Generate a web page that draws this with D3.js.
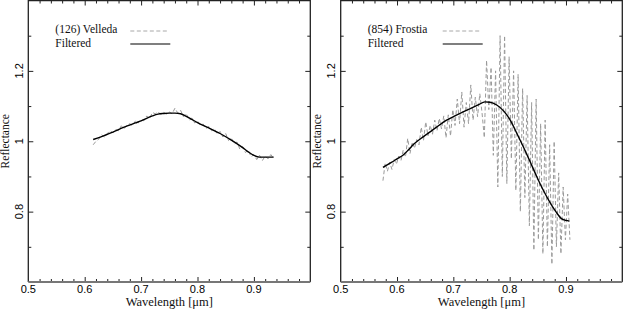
<!DOCTYPE html>
<html>
<head>
<meta charset="utf-8">
<script src="https://cdn.jsdelivr.net/npm/d3@7"></script>
<style>
	body { margin: 0; background: #fff; }
	svg { display: block; }
	.tickLabel { font-family: "Liberation Sans", Arial, sans-serif; font-size: 11px; fill: #000; }
	.axisLabel { font-family: "Liberation Serif", "DejaVu Serif", serif; font-size: 12.5px; fill: #111; }
	.yAxisLabel { font-family: "Liberation Serif", "DejaVu Serif", serif; font-size: 11.5px; fill: #111; }
	.legendText { font-family: "Liberation Serif", "DejaVu Serif", serif; font-size: 11.5px; fill: #111; }
</style>
</head>
<body>
<div id="canvas"></div>
<script>
// axis ticks
var xMajorTicks = [0.5, 0.6, 0.7, 0.8, 0.9, 1.0];
var xTickLabels = ["0.5", "0.6", "0.7", "0.8", "0.9", ""];
var yMajorTicks = [0.8, 1.0, 1.2];
var yTickLabels = ["0.8", "1", "1.2"];
var yMinorTicks = [0.7, 0.9, 1.1, 1.3];
var xMinorTicks = [0.52,0.54,0.56,0.58,0.62,0.64,0.66,0.68,0.72,0.74,0.76,0.78,0.82,0.84,0.86,0.88,0.92,0.94,0.96,0.98];

// (126) Velleda - raw spectrum
var velledaWave = [0.615,0.620,0.625,0.630,0.635,0.640,0.645,0.650,0.655,0.660,0.665,0.670,0.675,0.680,0.685,0.690,
	0.695,0.700,0.705,0.710,0.715,0.720,0.725,0.730,0.735,0.740,0.745,0.750,0.755,0.760,0.765,0.770,0.775,0.780,
	0.785,0.790,0.795,0.800,0.805,0.810,0.815,0.820,0.825,0.830,0.835,0.840,0.845,0.850,0.855,0.860,0.865,0.870,
	0.875,0.880,0.885,0.890,0.895,0.900,0.905,0.910,0.915,0.920,0.925,0.930,0.935];
var velledaRefl = [0.990,1.000,1.006,1.018,1.012,1.022,1.030,1.024,1.033,1.030,1.044,1.036,1.046,1.050,1.044,1.058,
	1.052,1.062,1.058,1.072,1.064,1.082,1.078,1.084,1.076,1.082,1.077,1.083,1.078,1.094,1.080,1.088,1.070,1.079,
	1.060,1.066,1.052,1.058,1.046,1.049,1.036,1.042,1.030,1.036,1.020,1.028,1.012,1.022,1.002,1.010,0.992,0.998,
	0.978,0.985,0.968,0.975,0.956,0.962,0.948,0.960,0.945,0.958,0.950,0.962,0.952];
// (126) Velleda - filtered
var velledaFiltWave = [0.615,0.630,0.650,0.670,0.690,0.700,0.720,0.730,0.740,0.750,0.760,0.770,0.780,0.790,0.800,
	0.820,0.840,0.860,0.880,0.890,0.900,0.910,0.920,0.935];
var velledaFiltRefl = [1.005,1.013,1.026,1.040,1.052,1.058,1.072,1.077,1.079,1.080,1.080,1.078,1.071,1.062,1.053,
	1.038,1.022,1.003,0.982,0.970,0.960,0.955,0.955,0.955];

// (854) Frostia - raw spectrum
var frostiaWave = [0.575,0.579,0.583,0.587,0.591,0.595,0.599,0.603,0.607,0.611,0.615,0.619,0.623,0.627,0.631,0.635,
	0.639,0.643,0.647,0.651,0.655,0.659,0.663,0.667,0.671,0.675,0.679,0.683,0.687,0.691,0.695,0.699,0.703,0.707,
	0.711,0.715,0.719,0.723,0.727,0.731,0.735,0.739,0.743,0.747,0.751,0.755,0.759,0.763,0.767,0.771,0.775,0.779,
	0.783,0.787,0.791,0.795,0.799,0.803,0.807,0.811,0.815,0.819,0.823,0.827,0.831,0.835,0.839,0.843,0.847,0.851,
	0.855,0.859,0.863,0.867,0.871,0.875,0.879,0.883,0.887,0.891,0.895,0.899,0.903,0.907];
var frostiaRefl = [0.888,0.938,0.915,0.940,0.920,0.948,0.935,0.958,0.945,0.975,0.955,1.008,0.965,0.998,0.980,1.005,
	0.990,1.040,1.002,1.055,1.015,1.045,1.020,1.060,1.030,1.065,1.035,1.072,1.010,1.075,1.015,1.090,1.045,1.120,
	1.050,1.140,1.040,1.110,1.050,1.160,1.060,1.125,1.070,1.135,1.080,1.010,1.230,1.090,1.210,0.960,1.200,0.870,
	1.300,0.900,1.300,0.880,1.240,0.950,1.200,0.860,1.190,0.800,1.150,0.840,1.130,0.760,1.110,0.690,1.120,0.720,
	1.050,0.680,1.060,0.700,0.990,0.650,1.000,0.700,0.910,0.680,0.870,0.720,0.850,0.720];
// (854) Frostia - filtered
var frostiaFiltWave = [0.575,0.590,0.600,0.611,0.620,0.630,0.647,0.660,0.670,0.688,0.700,0.710,0.730,0.745,0.756,
	0.765,0.777,0.790,0.801,0.812,0.824,0.836,0.848,0.860,0.872,0.882,0.892,0.900,0.906];
var frostiaFiltRefl = [0.926,0.940,0.950,0.961,0.975,0.992,1.013,1.028,1.040,1.060,1.070,1.078,1.093,1.104,1.112,
	1.111,1.103,1.085,1.060,1.025,0.985,0.943,0.900,0.860,0.825,0.800,0.780,0.775,0.773];

var panels = [
	{ left: 28.3, right: 310.3, name: "(126) Velleda",
	  raw: d3.zip(velledaWave, velledaRefl), filt: d3.zip(velledaFiltWave, velledaFiltRefl) },
	{ left: 340.7, right: 622.3, name: "(854) Frostia",
	  raw: d3.zip(frostiaWave, frostiaRefl), filt: d3.zip(frostiaFiltWave, frostiaFiltRefl) }
];

var w = 623, h = 317;
var plotTop = 0.5, plotBottom = 282;

var svg = d3.select("#canvas")
	.append("svg")
	.attr("width", w)
	.attr("height", h);

var yScale = d3.scaleLinear()
	.domain([0.6, 1.4])
	.range([plotBottom, plotTop]);

panels.forEach(function(p){
	var xScale = d3.scaleLinear()
		.domain([0.5, 1.0])
		.range([p.left, p.right]);

	var g = svg.append("g");

	var line = d3.line()
		.x(function(d){ return xScale(d[0]); })
		.y(function(d){ return yScale(d[1]); });

	// raw spectrum, dashed gray
	g.append("path")
		.datum(p.raw)
		.attr("fill", "none")
		.attr("stroke", "#9a9a9a")
		.attr("stroke-width", 1)
		.attr("stroke-dasharray", "4,2.5")
		.attr("d", line);

	var smooth = d3.line()
		.curve(d3.curveMonotoneX)
		.x(function(d){ return xScale(d[0]); })
		.y(function(d){ return yScale(d[1]); });

	g.append("path")
		.datum(p.filt)
		.attr("fill", "none")
		.attr("stroke", "#000")
		.attr("stroke-width", 1.4)
		.attr("d", smooth);

	// ticks, all pointing inward
	function addTicks(axis, transform, values, size){
		g.append("g")
			.attr("transform", transform)
			.call(axis.tickValues(values).tickSize(-size).tickFormat(""));
	}
	var bottomT = "translate(0," + plotBottom + ")";
	var topT = "translate(0," + plotTop + ")";
	var leftT = "translate(" + p.left + ",0)";
	var rightT = "translate(" + p.right + ",0)";
	addTicks(d3.axisBottom(xScale), bottomT, xMajorTicks.slice(1, 5), 5);
	addTicks(d3.axisBottom(xScale), bottomT, xMinorTicks, 3);
	addTicks(d3.axisTop(xScale), topT, xMajorTicks.slice(1, 5), 5);
	addTicks(d3.axisTop(xScale), topT, xMinorTicks, 3);
	addTicks(d3.axisLeft(yScale), leftT, yMajorTicks, 5);
	addTicks(d3.axisLeft(yScale), leftT, yMinorTicks, 3);
	addTicks(d3.axisRight(yScale), rightT, yMajorTicks, 5);
	addTicks(d3.axisRight(yScale), rightT, yMinorTicks, 3);
	g.selectAll(".domain").remove();
	g.selectAll(".tick line").attr("stroke", "#222").attr("stroke-width", 1);

	// frame
	g.append("path")
		.attr("d", "M" + p.left + "," + plotBottom + "V" + plotTop + "H" + p.right + "V" + plotBottom)
		.attr("fill", "none")
		.attr("stroke", "#222")
		.attr("stroke-width", 1.3);
	g.append("line")
		.attr("x1", p.left).attr("x2", p.right)
		.attr("y1", plotBottom).attr("y2", plotBottom)
		.attr("stroke", "#777")
		.attr("stroke-width", 2);

	// tick labels
	g.selectAll(".xLabel")
		.data(xMajorTicks)
		.enter()
		.append("text")
		.attr("class", "tickLabel")
		.attr("x", function(d){ return xScale(d); })
		.attr("y", 292.5)
		.attr("text-anchor", "middle")
		.text(function(d, i){ return xTickLabels[i]; });

	g.selectAll(".yLabel")
		.data(yMajorTicks)
		.enter()
		.append("text")
		.attr("class", "tickLabel")
		.attr("transform", function(d){
			return "translate(" + (p.left - 5.3) + "," + yScale(d) + ") rotate(-90)";
		})
		.attr("text-anchor", "middle")
		.text(function(d, i){ return yTickLabels[i]; });

	g.append("text")
		.attr("class", "axisLabel")
		.attr("x", (p.left + p.right) / 2)
		.attr("y", 306)
		.attr("text-anchor", "middle")
		.text("Wavelength [\u03bcm]");

	g.append("text")
		.attr("class", "yAxisLabel")
		.attr("transform", "translate(" + (p.left - 19.3) + "," + yScale(1.0) + ") rotate(-90)")
		.attr("text-anchor", "middle")
		.text("Reflectance");

	// legend
	g.append("text")
		.attr("class", "legendText")
		.attr("x", p.left + 27)
		.attr("y", 33)
		.text(p.name);
	g.append("line")
		.attr("x1", p.left + 102).attr("x2", p.left + 140)
		.attr("y1", 31).attr("y2", 31)
		.attr("stroke", "#a8a8a8")
		.attr("stroke-dasharray", "4,2.5");
	g.append("text")
		.attr("class", "legendText")
		.attr("x", p.left + 27)
		.attr("y", 47)
		.text("Filtered");
	g.append("line")
		.attr("x1", p.left + 102).attr("x2", p.left + 142)
		.attr("y1", 44).attr("y2", 44)
		.attr("stroke", "#000")
		.attr("stroke-width", 1.2);
});
</script>
</body>
</html>
